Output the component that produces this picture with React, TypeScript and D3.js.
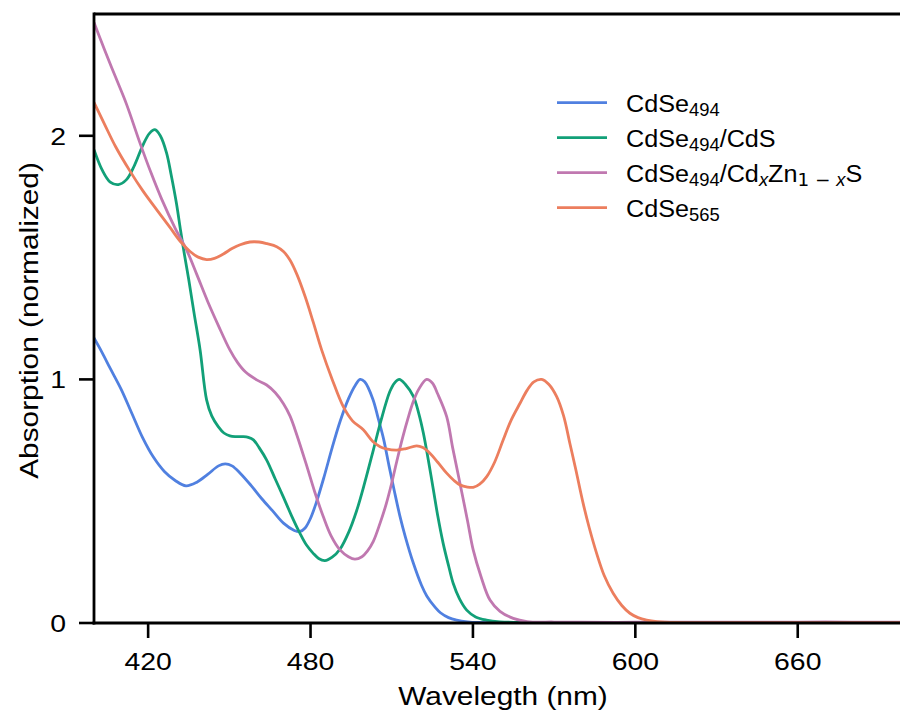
import React from "react";
import * as d3 from "d3";

// ---------- data ----------
const xTickValues = [420, 480, 540, 600, 660];
const yTickValues = [0, 1, 2];

const cdse494Wl = [400,403,406,410,414,418,422,426,430,434,438,442,446,448.5,451,454,458,462,466,470,474,476,478,480,482,485,488,491,494,496.5,498.3,500,503,505,507,509,511,513,515,518,521,523,526,528,531,534,538,542,548,556,570,600,650,700];
const cdse494Abs = [1.17,1.11,1.045,0.96,0.86,0.76,0.68,0.622,0.585,0.563,0.578,0.61,0.645,0.653,0.645,0.615,0.565,0.51,0.46,0.41,0.38,0.375,0.39,0.43,0.49,0.60,0.72,0.83,0.92,0.975,1.0,0.99,0.92,0.84,0.755,0.645,0.54,0.44,0.355,0.245,0.155,0.11,0.065,0.042,0.022,0.012,0.005,0.002,0.001,0.0,0.0,0.0,0.0,0.0];

const cdsWl = [400,403,406,409,412,415,418,420.5,422.5,424.5,426.8,428.5,430.5,432,433.6,435,437,439.2,441.6,443.5,445.9,448,450.2,452.5,455.2,457,458.9,461,463.8,467,469.9,473,476.1,478.5,481,483,485.3,488,491,494,497,500,503.2,506,509.3,511,512.8,515,518,520,521.7,523.5,525.4,527,529,531,532.7,535,537.7,541,545,550,560,600,700];
const cdsAbs = [1.943,1.86,1.81,1.80,1.82,1.88,1.96,2.01,2.025,2.0,1.93,1.84,1.72,1.61,1.50,1.41,1.27,1.121,0.916,0.85,0.806,0.78,0.768,0.765,0.765,0.762,0.752,0.72,0.669,0.59,0.519,0.44,0.368,0.32,0.286,0.265,0.256,0.27,0.305,0.37,0.46,0.575,0.71,0.83,0.95,0.985,1.0,0.98,0.93,0.86,0.779,0.67,0.546,0.44,0.327,0.235,0.163,0.10,0.053,0.025,0.012,0.005,0.002,0.0,0.0];

const cdznsWl = [400,404,408,412,417,421,425,430,434.2,438,442,446,450.2,453,456,460.1,463.8,467,470,472.4,475,478.6,481.5,484.7,487.5,490.9,494,496.4,499,501,503.2,505.7,508,510,512,514,516,518,520,522.9,525,527,530.3,532.5,535.2,538,540.1,543,546.3,550,554.9,560,570,580,600,620,640,660,680,700];
const cdznsAbs = [2.465,2.35,2.24,2.13,1.97,1.85,1.74,1.62,1.532,1.43,1.32,1.22,1.121,1.07,1.03,0.998,0.977,0.945,0.90,0.85,0.77,0.645,0.54,0.437,0.36,0.30,0.272,0.262,0.272,0.295,0.335,0.41,0.49,0.575,0.67,0.76,0.84,0.91,0.96,1.0,0.985,0.94,0.847,0.72,0.574,0.42,0.30,0.19,0.094,0.048,0.019,0.006,0.004,0.003,0.003,0.004,0.003,0.004,0.004,0.004];

const cdse565Wl = [400,404,408,413.3,418,423.2,428,432,435.5,438.5,441.6,444.5,447.8,451,454,457.6,461,464,467.5,470,472.4,475,478,481,484.1,488,492.1,495.5,499.5,503,505.7,508,511.8,515,519.2,521.5,524.1,527,530.3,533,535.2,538,540.1,542.5,545.1,548,551.2,554,557.4,560,562.5,565.4,568,570.9,573.5,575.8,578,580.7,583,585.7,588.5,591.8,595,598,601,604.2,608,615,630,660,700];
const cdse565Abs = [2.137,2.045,1.955,1.855,1.775,1.696,1.625,1.565,1.525,1.502,1.492,1.497,1.515,1.537,1.553,1.564,1.564,1.557,1.545,1.525,1.49,1.43,1.34,1.235,1.121,1.0,0.888,0.83,0.793,0.745,0.724,0.715,0.71,0.715,0.727,0.72,0.697,0.66,0.615,0.585,0.567,0.558,0.557,0.57,0.601,0.66,0.752,0.83,0.902,0.955,0.99,1.0,0.98,0.93,0.85,0.738,0.63,0.492,0.39,0.286,0.195,0.122,0.072,0.04,0.022,0.012,0.006,0.002,0.001,0.001,0.001];

type Part = { t: string; sub?: boolean; it?: boolean };
const seriesNames: Part[][] = [
  [{ t: "CdSe" }, { t: "494", sub: true }],
  [{ t: "CdSe" }, { t: "494", sub: true }, { t: "/CdS" }],
  [{ t: "CdSe" }, { t: "494", sub: true }, { t: "/Cd" }, { t: "x", sub: true, it: true }, { t: "Zn" }, { t: "1 − ", sub: true }, { t: "x", sub: true, it: true }, { t: "S" }],
  [{ t: "CdSe" }, { t: "565", sub: true }],
];
const seriesColors = ["#5080e0", "#12a078", "#c078b0", "#ec7e5e"];
const seriesWl = [cdse494Wl, cdsWl, cdznsWl, cdse565Wl];
const seriesAbs = [cdse494Abs, cdsAbs, cdznsAbs, cdse565Abs];

// ---------- layout ----------
const W = 900, H = 715;
const L = 94, R = 906, T = 14, B = 623;
const FONT = "'Liberation Sans', Arial, Helvetica, sans-serif";

function SText({ x, y, size, anchor = "start", sx = 1.12, rotate = 0, children }: any) {
  return (
    <g transform={`translate(${x},${y}) rotate(${rotate}) scale(${sx},1)`}>
      <text x={0} y={0} fontSize={size} textAnchor={anchor} fontFamily={FONT} fill="#000">
        {children}
      </text>
    </g>
  );
}

export default function App() {
  const x = d3.scaleLinear().domain([400, 700]).range([L, R]);
  const y = d3.scaleLinear().domain([0, 2.5]).range([B, T]);
  const line = d3
    .line<[number, number]>()
    .x((d) => x(d[0]))
    .y((d) => y(d[1]))
    .curve(d3.curveCatmullRom.alpha(0.5));

  const legX = 557, legY0 = 102.7, legDy = 35;

  return (
    <svg width={W} height={H} style={{ position: "absolute", left: 0, top: 0, background: "#fff" }}>
      <defs>
        <clipPath id="plot">
          <rect x={L} y={T - 2} width={R - L} height={B - T + 2} />
        </clipPath>
      </defs>
      <rect x={0} y={0} width={W} height={H} fill="#fff" />
      <g clipPath="url(#plot)">
        {seriesWl.map((wl, i) => (
          <path
            key={i}
            d={line(wl.map((w, j) => [w, seriesAbs[i][j]] as [number, number])) || ""}
            fill="none"
            stroke={seriesColors[i]}
            strokeWidth={2.8}
            strokeLinejoin="round"
          />
        ))}
      </g>
      {/* spines */}
      <line x1={L} x2={R + 2} y1={T} y2={T} stroke="#000" strokeWidth={2.8} />
      <line x1={L} x2={L} y1={T - 1.4} y2={B + 1.4} stroke="#000" strokeWidth={2.8} />
      <line x1={L - 1.4} x2={R + 2} y1={B} y2={B} stroke="#000" strokeWidth={2.8} />
      <line x1={R} x2={R} y1={T} y2={B} stroke="#000" strokeWidth={2.8} />
      {/* x ticks */}
      {xTickValues.map((v) => (
        <g key={v}>
          <line x1={x(v)} x2={x(v)} y1={B} y2={B + 15} stroke="#000" strokeWidth={2.6} />
          <SText x={x(v)} y={670} size={24.5} anchor="middle" sx={1.16}>{String(v)}</SText>
        </g>
      ))}
      {/* y ticks */}
      {yTickValues.map((v) => (
        <g key={v}>
          <line x1={L - 15} x2={L} y1={y(v)} y2={y(v)} stroke="#000" strokeWidth={2.6} />
          <SText x={66} y={y(v) + 8.8} size={24.5} anchor="middle" sx={1.16}>{""}</SText>
          <SText x={66} y={y(v) + 8.8} size={24.5} anchor="end" sx={1.16}>{String(v)}</SText>
        </g>
      ))}
      <SText x={(L + R) / 2 + 3} y={705} size={25.5} anchor="middle" sx={1.17}>Wavelegth (nm)</SText>
      <SText x={38} y={(T + B) / 2 + 2} size={25.5} anchor="middle" rotate={-90} sx={1.17}>Absorption (normalized)</SText>
      {/* legend */}
      {seriesNames.map((parts, i) => {
        const ly = legY0 + i * legDy;
        let shift = 0;
        return (
          <g key={i}>
            <line x1={legX} x2={legX + 50} y1={ly} y2={ly} stroke={seriesColors[i]} strokeWidth={2.8} />
            <g transform={`translate(${626},${ly + 9}) scale(1.05,1)`}>
              <text x={0} y={0} fontSize={24} fontFamily={FONT} fill="#000">
                {parts.map((p, k) => {
                  const target = p.sub ? 4.5 : 0;
                  const dy = target - shift;
                  shift = target;
                  return (
                    <tspan
                      key={k}
                      dy={dy}
                      fontSize={p.sub ? 17.5 : 24}
                      fontStyle={p.it ? "italic" : "normal"}
                      fontFamily={p.sub && !p.it && p.t.startsWith("1") ? "'DejaVu Sans', sans-serif" : FONT}
                    >
                      {p.t}
                    </tspan>
                  );
                })}
              </text>
            </g>
          </g>
        );
      })}
    </svg>
  );
}
